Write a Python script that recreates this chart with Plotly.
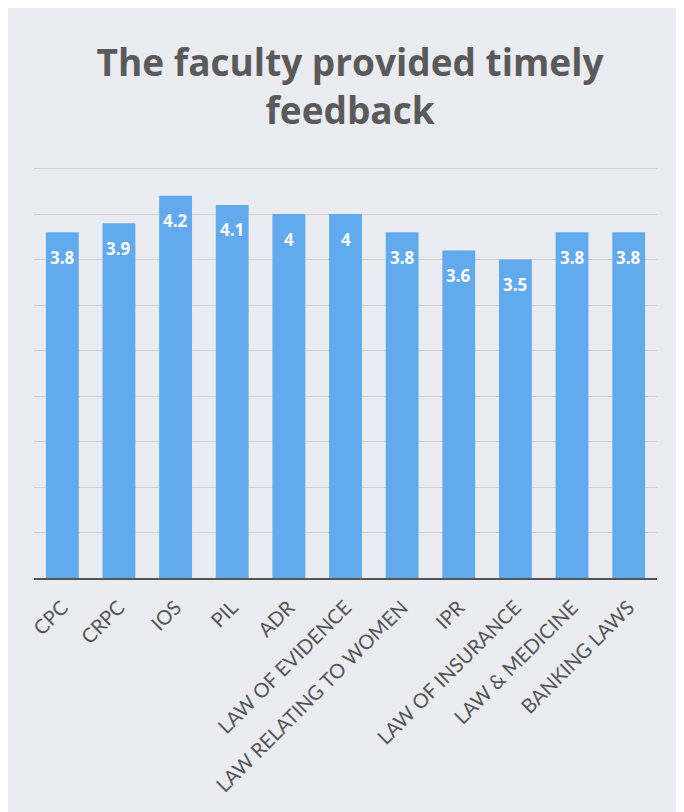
import plotly.graph_objects as go

categories = ["CPC", "CRPC", "IOS", "PIL", "ADR", "LAW OF EVIDENCE",
              "LAW RELATING TO WOMEN", "IPR", "LAW OF INSURANCE",
              "LAW & MEDICINE", "BANKING LAWS"]
values = [3.8, 3.9, 4.2, 4.1, 4, 4, 3.8, 3.6, 3.5, 3.8, 3.8]
value_labels = ["3.8", "3.9", "4.2", "4.1", "4", "4", "3.8", "3.6", "3.5", "3.8", "3.8"]

fig = go.Figure(go.Bar(
    x=categories, y=values,
    marker=dict(color="#62aaee", line=dict(width=0)),
    hoverinfo="x+y",
))

for c, v, t in zip(categories, values, value_labels):
    fig.add_annotation(x=c, y=v, text="<b>%s</b>" % t, showarrow=False,
                       yanchor="middle", yshift=-25,
                       font=dict(family="Open Sans", size=17, color="white"))

fig.update_layout(
    width=676, height=804,
    margin=dict(l=26, r=27, t=156, b=234),
    paper_bgcolor="#ebecf2", plot_bgcolor="rgba(0,0,0,0)",
    bargap=0.42,
    showlegend=False,
    title=dict(text="<b>The faculty provided timely<br>feedback</b>",
               x=0.506, xanchor="center", y=0.915, yanchor="middle",
               font=dict(family="Open Sans", size=37, color="#5a5a5a")),
    xaxis=dict(tickangle=-45, showline=True, linecolor="#555555", linewidth=2,
               tickfont=dict(family="Lato", size=20, color="#555555"),
               ticks="outside", ticklen=8, tickcolor="rgba(0,0,0,0)", showgrid=False),
    yaxis=dict(range=[0, 4.55], dtick=0.5, showticklabels=False,
               showgrid=True, gridcolor="#cfd0d6", gridwidth=1,
               zeroline=False, showline=False, ticks=""),
)

fig.write_html("out.html")
